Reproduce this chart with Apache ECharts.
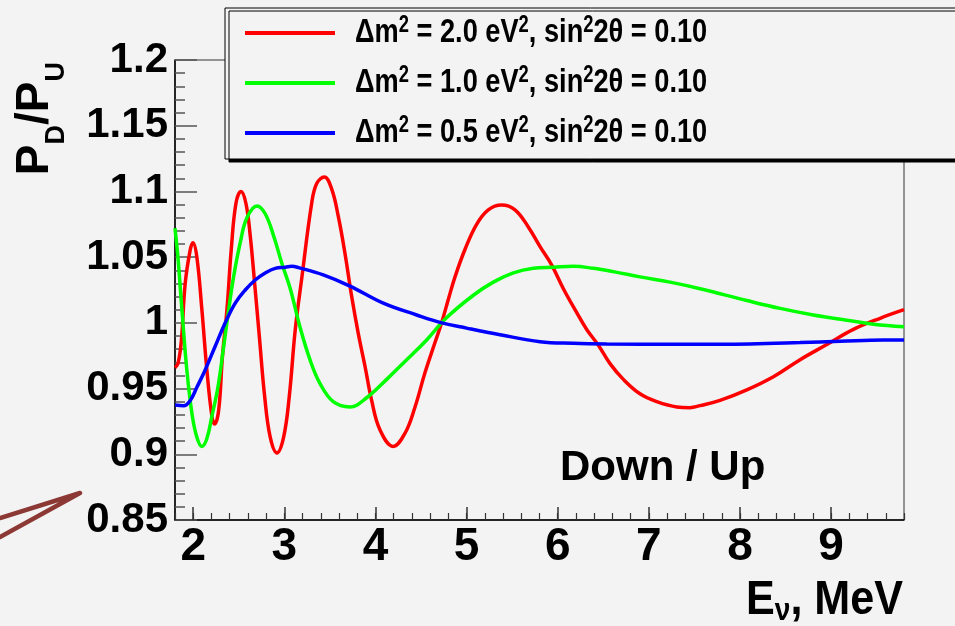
<!DOCTYPE html>
<html>
<head>
<meta charset="utf-8">
<script src="https://cdn.jsdelivr.net/npm/echarts@6/dist/echarts.min.js"></script>
<style>
  html, body { margin: 0; padding: 0; background: #f3f3f3; }
  #chart { width: 955px; height: 626px; }
</style>
</head>
<body>
<div id="chart"></div>
<script>
// values
const dm2Values = ['2.0', '1.0', '0.5'];
const seriesNames = [
  'Δm² = 2.0 eV², sin²2θ = 0.10',
  'Δm² = 1.0 eV², sin²2θ = 0.10',
  'Δm² = 0.5 eV², sin²2θ = 0.10'
];
const seriesColors = ['#ff0000', '#00ff00', '#0000ff'];

const energyRed = [1.80, 1.832, 1.868, 1.912, 1.967, 1.997, 2.04, 2.095, 2.15, 2.205, 2.235, 2.28, 2.32, 2.37,
  2.417, 2.469, 2.524, 2.578, 2.626, 2.674, 2.725, 2.784, 2.845, 2.919, 2.992, 3.054, 3.12, 3.193, 3.30,
  3.355, 3.438, 3.519, 3.592, 3.665, 3.739, 3.811, 3.885, 3.958, 4.05, 4.195, 4.324, 4.434, 4.543, 4.653,
  4.73, 4.80, 4.873, 4.983, 5.11, 5.238, 5.385, 5.531, 5.677, 5.806, 5.934, 6.062, 6.19, 6.318, 6.446,
  6.574, 6.72, 6.903, 7.087, 7.306, 7.45, 7.562, 7.781, 8.075, 8.367, 8.66, 8.953, 9.245, 9.538, 9.80];
const ratioRed = [0.966, 0.969, 0.985, 1.030, 1.0555, 1.061, 1.050, 1.010, 0.964, 0.929, 0.923, 0.934, 0.974, 1.010,
  1.0555, 1.091, 1.100, 1.091, 1.066, 1.030, 0.990, 0.944, 0.913, 0.901, 0.913, 0.944, 0.995, 1.035, 1.091,
  1.106, 1.111, 1.102, 1.081, 1.053, 1.020, 0.992, 0.967, 0.941, 0.9185, 0.906, 0.916, 0.936, 0.962, 0.985,
  1.001, 1.018, 1.035, 1.056, 1.075, 1.086, 1.0897, 1.086, 1.073, 1.058, 1.044, 1.026, 1.010, 0.995, 0.983,
  0.969, 0.957, 0.946, 0.940, 0.936, 0.9355, 0.937, 0.941, 0.949, 0.959, 0.972, 0.9835, 0.995, 1.0035, 1.010];

const energyGreen = [1.80, 1.832, 1.876, 1.93, 1.986, 2.04, 2.095, 2.15, 2.205, 2.271, 2.334, 2.389, 2.443, 2.516,
  2.589, 2.70, 2.79, 2.883, 2.974, 3.065, 3.171, 3.281, 3.39, 3.537, 3.72, 3.903, 4.123, 4.343, 4.562, 4.782,
  5.074, 5.293, 5.513, 5.732, 5.952, 6.171, 6.391, 6.61, 6.903, 7.233, 7.562, 8.075, 8.44, 8.806, 9.172, 9.465, 9.80];
const ratioGreen = [1.072, 1.050, 1.010, 0.964, 0.931, 0.913, 0.906, 0.912, 0.929, 0.951, 0.982, 1.010, 1.035, 1.061,
  1.080, 1.089, 1.083, 1.066, 1.045, 1.026, 0.997, 0.972, 0.954, 0.940, 0.936, 0.943, 0.957, 0.972, 0.987, 1.004,
  1.021, 1.031, 1.038, 1.0415, 1.0423, 1.043, 1.0415, 1.039, 1.035, 1.031, 1.026, 1.017, 1.011, 1.006, 1.002, 0.999, 0.997];

const energyBlue = [1.80, 1.895, 1.967, 2.04, 2.13, 2.24, 2.351, 2.461, 2.571, 2.68, 2.79, 2.90, 3.01, 3.08, 3.157,
  3.427, 3.72, 4.086, 4.452, 4.727, 5.0, 5.367, 5.806, 6.171, 6.538, 7.342, 8.11, 8.66, 9.10, 9.574, 9.80];
const ratioBlue = [0.9375, 0.937, 0.941, 0.951, 0.964, 0.982, 1.000, 1.015, 1.025, 1.0326, 1.038, 1.0415, 1.0423, 1.043, 1.042,
  1.0365, 1.028, 1.015, 1.006, 1.000, 0.996, 0.991, 0.9857, 0.9845, 0.984, 0.9837, 0.984, 0.985, 0.986, 0.987, 0.987];

const wide = "'Liberation Sans', Arial, sans-serif";

function pairs(xs, ys) {
  return xs.map(function (x, i) { return [x, ys[i]]; });
}

const allData = [pairs(energyRed, ratioRed), pairs(energyGreen, ratioGreen), pairs(energyBlue, ratioBlue)];

const chart = echarts.init(document.getElementById('chart'));

// legend drawn as a framed box; text squeezed like the original narrow font
const legendRich = {
  t: { fill: '#000', fontFamily: wide, fontWeight: 'bold', fontSize: 34 },
  s: { fill: '#000', fontFamily: wide, fontWeight: 'bold', fontSize: 23, padding: [0, 0, 15, 0] }
};
const legendItems = [];
seriesNames.forEach(function (name, i) {
  const rowY = 33 + i * 50;
  legendItems.push({
    type: 'line', z: 101,
    shape: { x1: 245, y1: rowY, x2: 335, y2: rowY },
    style: { stroke: seriesColors[i], lineWidth: 4 }
  });
  legendItems.push({
    type: 'text', z: 101, x: 355, y: rowY, scaleX: 0.8,
    style: {
      text: '{t|Δm}{s|2}{t| = ' + dm2Values[i] + ' eV}{s|2}{t|, sin}{s|2}{t|2θ = 0.10}',
      align: 'left', verticalAlign: 'middle', rich: legendRich
    }
  });
});

const options = {
  backgroundColor: '#f3f3f3',
  animation: false,
  grid: {
    left: 175, right: 51, top: 60, bottom: 106,
    show: true, borderColor: '#333', borderWidth: 1, backgroundColor: 'transparent'
  },
  xAxis: [
    {
      type: 'value', min: 1.8, max: 9.8, splitNumber: 8,
      axisLine: { show: true, onZero: false, lineStyle: { color: '#000', width: 1.5 } },
      axisTick: { inside: true, length: 13, lineStyle: { color: '#333', width: 1.5 } },
      splitLine: { show: false },
      axisLabel: {
        color: '#000', fontFamily: wide, fontWeight: 'bold', fontSize: 46, margin: 4,
        showMinLabel: false, showMaxLabel: false,
        formatter: function (v) { return Number.isInteger(v) ? String(v) : ''; }
      }
    },
    {
      type: 'value', min: 1.8, max: 9.8, interval: 0.2, position: 'bottom',
      axisLine: { show: false },
      axisTick: { inside: true, length: 7, lineStyle: { color: '#333', width: 1.2 } },
      axisLabel: { show: false },
      splitLine: { show: false }
    }
  ],
  yAxis: {
    type: 'value', min: 0.85, max: 1.2, interval: 0.05,
    axisLine: { show: true, onZero: false, lineStyle: { color: '#000', width: 1.5 } },
    axisTick: { inside: true, length: 22, lineStyle: { color: '#555', width: 1.5 } },
    minorTick: { show: true, splitNumber: 5, length: 10, lineStyle: { color: '#555', width: 1.5 } },
    splitLine: { show: false },
    axisLabel: { color: '#000', fontFamily: wide, fontWeight: 'bold', fontSize: 42, margin: 7 }
  },
  series: seriesNames.map(function (name, i) {
    return {
      name: name,
      type: 'line',
      xAxisIndex: 0,
      data: allData[i],
      showSymbol: false,
      smooth: 0.4,
      lineStyle: { color: seriesColors[i], width: 3.5 },
      itemStyle: { color: seriesColors[i] }
    };
  }),
  graphic: [
    {
      type: 'rect', z: 100,
      shape: { x: 225, y: 8, width: 800, height: 151 },
      style: {
        fill: '#f3f3f3', stroke: '#000', lineWidth: 1,
        shadowColor: '#000', shadowBlur: 0, shadowOffsetX: 4, shadowOffsetY: 3
      }
    }
  ].concat(legendItems, [
    {
      type: 'text', x: 35, y: 62, rotation: Math.PI / 2,
      style: {
        text: '{p|P}{s|D}{p|/P}{s|U}',
        align: 'right', verticalAlign: 'middle',
        rich: {
          p: { fill: '#000', fontFamily: wide, fontWeight: 'bold', fontSize: 46 },
          s: { fill: '#000', fontFamily: wide, fontWeight: 'bold', fontSize: 27, padding: [44, 0, 0, 0] }
        }
      }
    },
    {
      type: 'text', x: 903, y: 600, scaleX: 0.88,
      style: {
        text: '{p|E}{s|ν}{p|, MeV}',
        align: 'right', verticalAlign: 'middle',
        rich: {
          p: { fill: '#000', fontFamily: wide, fontWeight: 'bold', fontSize: 49 },
          s: { fill: '#000', fontFamily: wide, fontWeight: 'bold', fontSize: 32, padding: [23, 0, 0, 0] }
        }
      }
    },
    {
      type: 'text', x: 560, y: 468,
      style: {
        text: 'Down / Up', fill: '#000',
        font: 'bold 42px ' + wide,
        align: 'left', verticalAlign: 'middle'
      }
    },
    {
      type: 'polyline',
      shape: { points: [[0, 518], [80, 493], [0, 537]] },
      style: { stroke: '#8c3834', lineWidth: 4.5, fill: null, lineJoin: 'round', lineCap: 'round' }
    }
  ])
};

chart.setOption(options);
</script>
</body>
</html>
